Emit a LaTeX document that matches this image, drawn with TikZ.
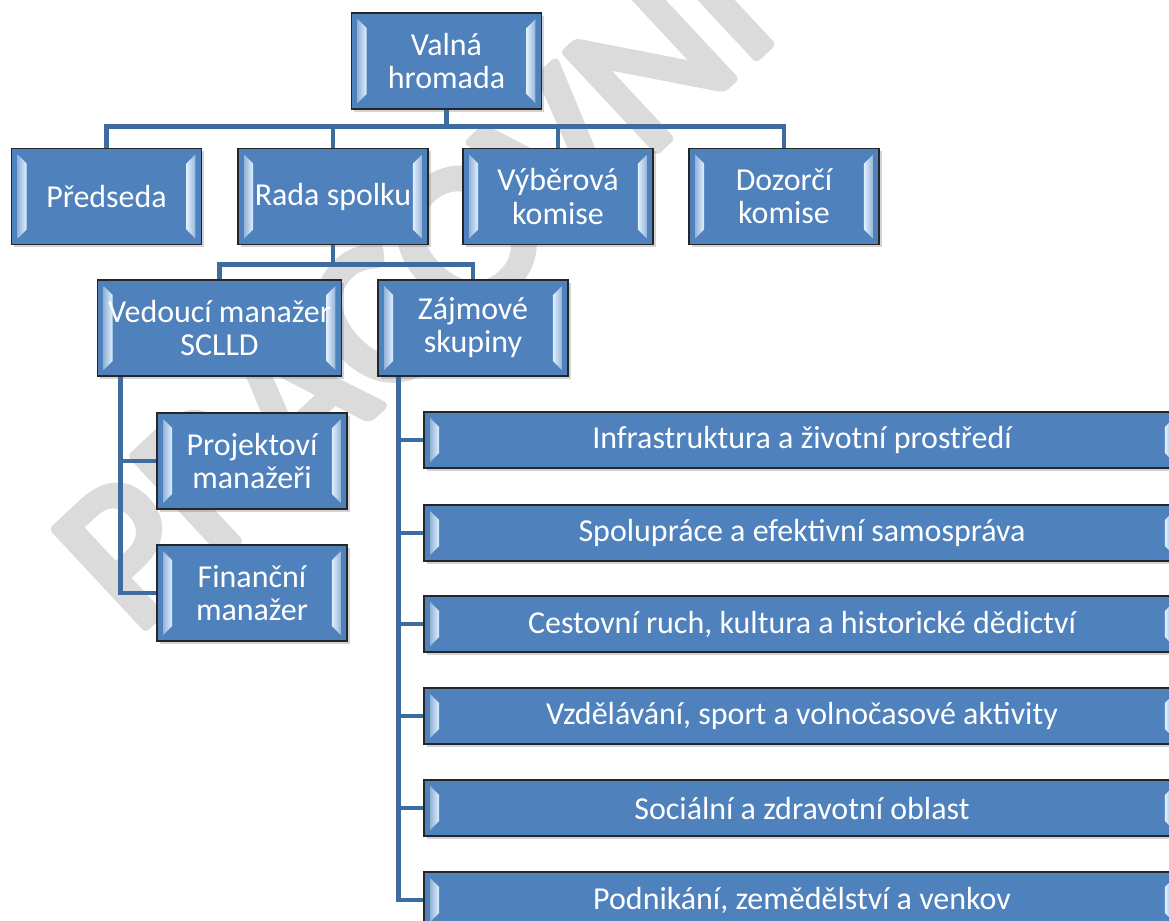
\documentclass[tikz,border=0pt]{standalone}
\usepackage{fontspec}
\setmainfont{Carlito}
\usetikzlibrary{positioning,calc,shadows}
\definecolor{boxblue}{RGB}{79,129,189}
\definecolor{linkblue}{RGB}{62,108,160}
\definecolor{bevhi}{RGB}{222,240,255}
\definecolor{wmgray}{RGB}{219,219,219}
\newcommand\bevelstrips{%
  \coordinate (bsw) at (path picture bounding box.south west);
  \coordinate (bne) at (path picture bounding box.north east);
  \shade[left color=boxblue!60!white, right color=bevhi]
    ($(bsw)+(0.12cm,0.12cm)$) -- ($(bsw)+(0.3cm,0.3cm)$) -- ($(bsw |- bne)+(0.3cm,-0.3cm)$) -- ($(bsw |- bne)+(0.12cm,-0.12cm)$) -- cycle;
  \shade[left color=bevhi, right color=boxblue!60!white]
    ($(bne |- bsw)+(-0.3cm,0.3cm)$) -- ($(bne |- bsw)+(-0.12cm,0.12cm)$) -- ($(bne)+(-0.12cm,-0.12cm)$) -- ($(bne)+(-0.3cm,-0.3cm)$) -- cycle;
}
\newcommand\wmtext{\color{wmgray}\special{pdf:literal direct 2 Tr 5 w 1 j}\fontsize{118}{118}\selectfont PRACOVNÍ\special{pdf:literal direct 0 Tr}}
\tikzset{
  orgbox/.style={draw=black!85, line width=0.9pt, fill=boxblue, text=white, align=center,
    font=\fontsize{18.2}{18.8}\selectfont, inner sep=0pt,
    drop shadow={shadow xshift=1.5pt, shadow yshift=-1.5pt, opacity=0.35},
    path picture={\bevelstrips}},
  smallbox/.style={orgbox, minimum width=3.8cm, minimum height=1.92cm},
  widebox/.style={orgbox, minimum width=15.12cm, minimum height=1.12cm},
  link/.style={draw=linkblue, line width=2.8pt}
}
\begin{document}
\begin{tikzpicture}[x=0.02cm, y=-0.02cm]
  \useasboundingbox (0,0) rectangle (1169,920);
  \clip (0,0) rectangle (1169,920);
  % watermark
  \node[rotate=43, inner sep=0pt] (wm) at (400,272) {\wmtext};
  \node[smallbox] (valna) at (446.5,61) {Valná\\hromada};
  \node[smallbox] (pred) at (106.5,196.5) {Předseda};
  \node[smallbox] (rada) at (333,196.5) {Rada spolku};
  \node[smallbox] (vyber) at (558,196.5) {Výběrová\\komise};
  \node[smallbox] (dozor) at (784,196.5) {Dozorčí\\komise};
  \node[smallbox, minimum width=4.88cm] (vedouci) at (219.5,328) {Vedoucí manažer\\SCLLD};
  \node[smallbox] (zajm) at (473,328) {Zájmové\\skupiny};
  \node[smallbox] (proj) at (252,461) {Projektoví\\manažeři};
  \node[smallbox] (fin) at (252,593) {Finanční\\manažer};
  \node[widebox] (infra) at (802,440) {Infrastruktura a životní prostředí};
  \node[widebox] (spolu) at (802,533) {Spolupráce a efektivní samospráva};
  \node[widebox] (cest) at (802,624) {Cestovní ruch, kultura a historické dědictví};
  \node[widebox] (vzdel) at (802,716) {Vzdělávání, sport a volnočasové aktivity};
  \node[widebox] (soc) at (802,808) {Sociální a zdravotní oblast};
  \node[widebox] (podn) at (802,900) {Podnikání, zemědělství a venkov};
  % connectors
  \foreach \n in {pred,rada,vyber,dozor}
    \draw[link] (valna.south) -- ++(0,17) -| (\n.north);
  \foreach \n in {vedouci,zajm}
    \draw[link] (rada.south) -- ++(0,19) -| (\n.north);
  \foreach \n in {proj,fin}
    \draw[link] ($(vedouci.south west)+(24,0)$) |- (\n.west);
  \foreach \n in {infra,spolu,cest,vzdel,soc,podn}
    \draw[link] ($(zajm.south west)+(21,0)$) |- (\n.west);
\end{tikzpicture}
\end{document}
